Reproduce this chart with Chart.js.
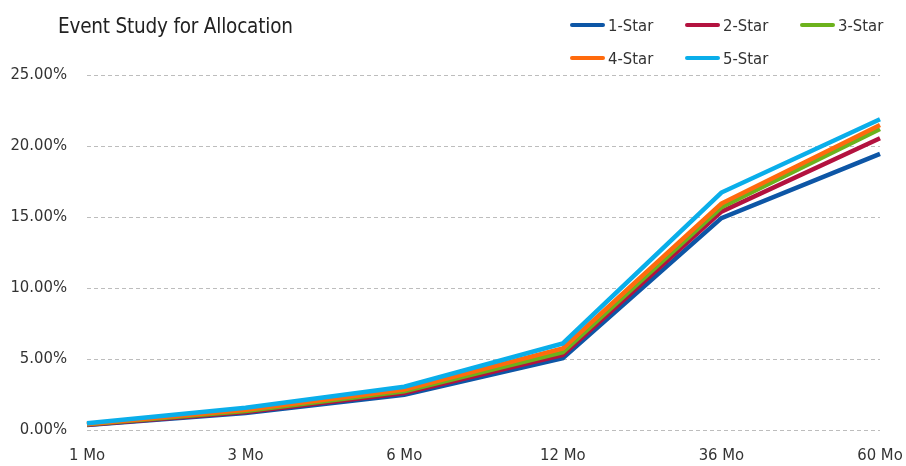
<!DOCTYPE html>
<html>
<head>
<meta charset="utf-8">
<script src="https://cdn.jsdelivr.net/npm/chart.js@4/dist/chart.umd.min.js"></script>
<style>
  html, body { margin: 0; padding: 0; background: #fff; }
  #wrap { position: relative; width: 906px; height: 466px; font-family: "DejaVu Sans Condensed", sans-serif; }
  #chart { position: absolute; left: 0; top: 0; }
  #title { position: absolute; left: 58px; top: 14px; font-size: 20.5px; color: #222; white-space: nowrap; letter-spacing: -0.2px; }
  #legend { position: absolute; left: 570px; top: 13px; width: 336px; }
  .item { position: absolute; display: flex; align-items: center; font-size: 16.5px; color: #333; white-space: nowrap; height: 24px; }
  .swatch { width: 35px; height: 4px; border-radius: 2px; margin-right: 3px; }
</style>
</head>
<body>
<div id="wrap">
  <canvas id="chart" width="906" height="466"></canvas>
  <div id="title">Event Study for Allocation</div>
  <div id="legend"></div>
</div>
<script>
// Holding periods after the rating event
const periods = ["1 Mo", "3 Mo", "6 Mo", "12 Mo", "36 Mo", "60 Mo"];

// Cumulative return (%) by star rating
const star1 = [0.35, 1.20, 2.48, 5.05, 14.92, 19.45];
const star2 = [0.37, 1.27, 2.60, 5.28, 15.38, 20.55];
const star3 = [0.40, 1.34, 2.72, 5.47, 15.68, 21.20];
const star4 = [0.42, 1.42, 2.85, 5.75, 15.95, 21.48];
const star5 = [0.48, 1.56, 3.05, 6.10, 16.72, 21.88];

const seriesNames = ["1-Star", "2-Star", "3-Star", "4-Star", "5-Star"];
const seriesColors = ["#0d56a6", "#b3123f", "#6cb21c", "#ff6a0d", "#0aaeea"];

// Y axis ticks (percent)
const yTicks = [0, 5, 10, 15, 20, 25];

const seriesData = [star1, star2, star3, star4, star5];
const FONT = '"DejaVu Sans Condensed", sans-serif';

const datasets = seriesNames.map((name, i) => ({
  label: name,
  data: seriesData[i],
  borderColor: seriesColors[i],
  backgroundColor: seriesColors[i],
  borderWidth: 4.5,
  pointRadius: 0,
  pointHoverRadius: 0,
  tension: 0,
  fill: false,
  order: seriesNames.length - i
}));

// Legend: three items per row, left-aligned columns
const legend = document.getElementById("legend");
seriesNames.forEach((name, i) => {
  const el = document.createElement("div");
  el.className = "item";
  el.style.left = (i % 3) * 115 + "px";
  el.style.top = Math.floor(i / 3) * 33 + "px";
  el.innerHTML = '<span class="swatch" style="background:' + seriesColors[i] + '"></span>' + name;
  legend.appendChild(el);
});

new Chart(document.getElementById("chart"), {
  type: "line",
  data: { labels: periods, datasets },
  options: {
    responsive: false,
    animation: false,
    layout: { padding: { top: 75, right: 26, bottom: 0, left: 0 } },
    plugins: { legend: { display: false }, tooltip: { enabled: false }, title: { display: false } },
    scales: {
      x: {
        offset: false,
        grid: { display: false, drawTicks: false },
        border: { display: false },
        ticks: { color: "#333", font: { family: FONT, size: 16.5 }, padding: 16, maxRotation: 0, autoSkip: false },
        // keep the plot edge fixed; the end labels may overhang into the margin
        afterFit: s => { s.height = 36; s.paddingLeft = 0; s.paddingRight = 0; }
      },
      y: {
        min: yTicks[0],
        max: yTicks[yTicks.length - 1],
        afterBuildTicks: s => { s.ticks = yTicks.map(v => ({ value: v })); },
        grid: { color: "#bdbdbd", lineWidth: 1, drawTicks: false },
        border: { display: false, dash: [4, 3] },
        ticks: { color: "#333", font: { family: FONT, size: 16.5 }, padding: 20, callback: v => v.toFixed(2) + "%" },
        afterFit: s => { s.width = 87; s.paddingTop = 0; s.paddingBottom = 0; }
      }
    }
  }
});
</script>
</body>
</html>
